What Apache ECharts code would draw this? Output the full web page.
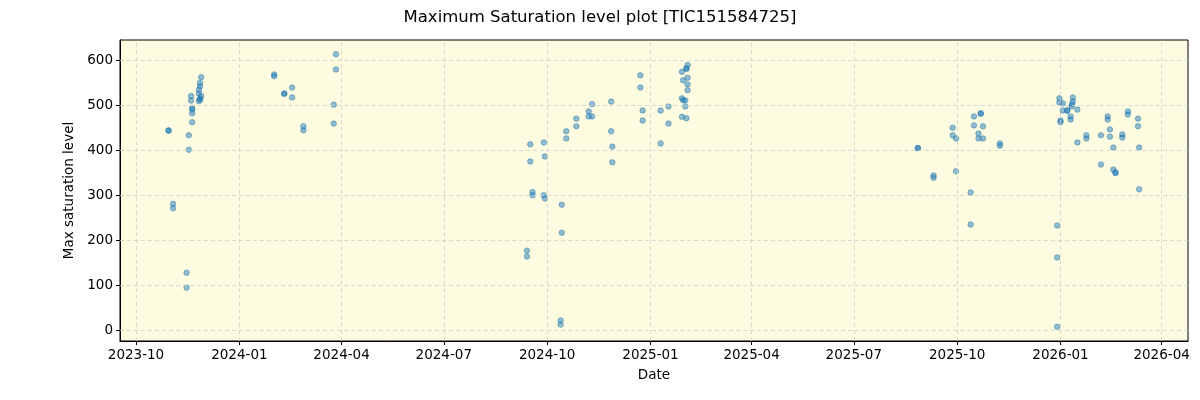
<!DOCTYPE html>
<html>
<head>
<meta charset="utf-8">
<script src="https://cdn.jsdelivr.net/npm/echarts@6/dist/echarts.min.js"></script>
<style>
html,body{margin:0;padding:0;background:#fff;}
#chart{width:1200px;height:400px;}
</style>
</head>
<body>
<div id="chart"></div>
<script>
// ---- data ----
const pointDates = [
  '2023-10-30','2023-10-30',
  '2023-11-03','2023-11-03',
  '2023-11-15','2023-11-15',
  '2023-11-17','2023-11-17',
  '2023-11-19','2023-11-19',
  '2023-11-20','2023-11-20','2023-11-20','2023-11-20',
  '2023-11-26','2023-11-26','2023-11-26',
  '2023-11-27','2023-11-27','2023-11-27','2023-11-27',
  '2023-11-28','2023-11-28',
  '2024-02-01','2024-02-01',
  '2024-02-10','2024-02-10',
  '2024-02-17','2024-02-17',
  '2024-02-27','2024-02-27',
  '2024-03-25','2024-03-25',
  '2024-03-27','2024-03-27',
  '2024-09-13','2024-09-13',
  '2024-09-16','2024-09-16',
  '2024-09-18','2024-09-18',
  '2024-09-28','2024-09-28',
  '2024-09-29','2024-09-29',
  '2024-10-13','2024-10-13',
  '2024-10-14','2024-10-14',
  '2024-10-18','2024-10-18',
  '2024-10-27','2024-10-27',
  '2024-11-07','2024-11-07',
  '2024-11-10','2024-11-10',
  '2024-11-27','2024-11-27',
  '2024-11-28','2024-11-28',
  '2024-12-23','2024-12-23',
  '2024-12-25','2024-12-25',
  '2025-01-10','2025-01-10',
  '2025-01-17','2025-01-17',
  '2025-01-29','2025-01-29','2025-01-29',
  '2025-01-30','2025-01-30',
  '2025-02-01','2025-02-01',
  '2025-02-02','2025-02-02','2025-02-02',
  '2025-02-03','2025-02-03','2025-02-03','2025-02-03',
  '2025-08-27','2025-08-27',
  '2025-09-10','2025-09-10',
  '2025-09-27','2025-09-27',
  '2025-09-30','2025-09-30',
  '2025-10-13','2025-10-13',
  '2025-10-16','2025-10-16',
  '2025-10-20','2025-10-20',
  '2025-10-22','2025-10-22',
  '2025-10-24','2025-10-24',
  '2025-11-08','2025-11-08',
  '2025-12-29','2025-12-29','2025-12-29',
  '2025-12-31','2025-12-31',
  '2026-01-01','2026-01-01',
  '2026-01-03','2026-01-03',
  '2026-01-07','2026-01-07',
  '2026-01-10','2026-01-10',
  '2026-01-11','2026-01-11',
  '2026-01-12','2026-01-12',
  '2026-01-16','2026-01-16',
  '2026-01-24','2026-01-24',
  '2026-02-06','2026-02-06',
  '2026-02-12','2026-02-12',
  '2026-02-14','2026-02-14',
  '2026-02-17','2026-02-17',
  '2026-02-19','2026-02-19',
  '2026-02-25','2026-02-25',
  '2026-03-02','2026-03-02',
  '2026-03-11','2026-03-11',
  '2026-03-12','2026-03-12'
];
const maxSaturation = [
  444, 443,
  281, 271,
  128, 95,
  433, 401,
  520, 510,
  494, 490, 482, 462,
  509, 526, 534,
  512, 515, 542, 549,
  520, 562,
  568, 564,
  526, 525,
  539, 517,
  453, 444,
  501, 459,
  613, 579,
  177, 164,
  413, 375,
  307, 300,
  417, 300,
  386, 293,
  22, 13,
  279, 217,
  442, 426,
  470, 453,
  486, 475,
  475, 502,
  508, 442,
  408, 373,
  566, 539,
  488, 466,
  488, 415,
  497, 459,
  574, 515, 474,
  555, 511,
  510, 497,
  471, 582, 580,
  561, 546, 533, 589,
  405, 404,
  344, 339,
  450, 433,
  426, 353,
  306, 235,
  475, 455,
  437, 426,
  482, 481,
  453, 426,
  415, 410,
  233, 162, 8,
  515, 506,
  466, 462,
  504, 488,
  489, 487,
  475, 468,
  497, 502,
  517, 508,
  490, 417,
  433, 426,
  433, 368,
  475, 468,
  446, 430,
  406, 357,
  351, 349,
  435, 428,
  486, 479,
  470, 453,
  406, 313
];
const xTickDates = ['2023-10-01','2024-01-01','2024-04-01','2024-07-01','2024-10-01',
  '2025-01-01','2025-04-01','2025-07-01','2025-10-01','2026-01-01','2026-04-01'];
const yTickValues = [0, 100, 200, 300, 400, 500, 600];
const xRange = ['2023-09-16 18:00', '2026-04-24 12:00'];
const yRange = [-23.5, 644.5];
const titleText = 'Maximum Saturation level plot [TIC151584725]';

// ---- chart ----
const ts = s => {
  const p = s.split(' ');
  const d = p[0].split('-').map(Number);
  const t = p[1] ? p[1].split(':').map(Number) : [0, 0];
  return Date.UTC(d[0], d[1] - 1, d[2], t[0], t[1]);
};
const xTicks = xTickDates.map(ts);
const pad = n => (n < 10 ? '0' : '') + n;
const fmt = v => { const d = new Date(v); return d.getUTCFullYear() + '-' + pad(d.getUTCMonth() + 1); };

const data = pointDates.map((d, i) => [ts(d), maxSaturation[i]]);
const font = 'DejaVu Sans';
const gridLine = { color: '#cfcfcf', width: 0.8, type: [4, 3] };

const chart = echarts.init(document.getElementById('chart'), null, { renderer: 'canvas' });
chart.setOption({
  animation: false,
  backgroundColor: '#ffffff',
  title: {
    text: titleText, left: 'center', top: 4,
    textStyle: { fontFamily: font, fontSize: 16.5, fontWeight: 'normal', color: '#000' }
  },
  grid: {
    left: 120, right: 12, top: 40, bottom: 59,
    show: true, backgroundColor: '#fdfce1', borderColor: '#000', borderWidth: 1
  },
  xAxis: {
    type: 'value', min: ts(xRange[0]), max: ts(xRange[1]),
    name: 'Date', nameLocation: 'middle', nameGap: 27,
    nameTextStyle: { fontFamily: font, fontSize: 13.5, color: '#000' },
    axisLine: { show: true, onZero: false, lineStyle: { color: '#000', width: 1 } },
    axisTick: { show: true, length: 4, lineStyle: { color: '#000' }, customValues: xTicks },
    axisLabel: { fontFamily: font, fontSize: 13.5, color: '#000', margin: 7,
      customValues: xTicks, formatter: fmt, hideOverlap: false },
    splitLine: { show: false }
  },
  yAxis: {
    type: 'value', min: yRange[0], max: yRange[1],
    name: 'Max saturation level', nameLocation: 'middle', nameGap: 44, nameRotate: 90,
    nameTextStyle: { fontFamily: font, fontSize: 13.5, color: '#000' },
    axisLine: { show: true, onZero: false, lineStyle: { color: '#000', width: 1 } },
    axisTick: { show: true, length: 4, lineStyle: { color: '#000' }, customValues: yTickValues },
    axisLabel: { fontFamily: font, fontSize: 13.5, color: '#000', margin: 7, customValues: yTickValues },
    splitLine: { show: false }
  },
  series: [{
    type: 'scatter',
    data: data,
    symbol: 'circle',
    symbolSize: 5.5,
    itemStyle: { color: 'rgba(31,119,180,0.6)', borderColor: 'rgba(31,119,180,0.75)', borderWidth: 0.8 },
    markLine: {
      silent: true, symbol: ['none', 'none'], animation: false,
      label: { show: false },
      lineStyle: gridLine,
      emphasis: { disabled: true },
      data: xTicks.map(v => ({ xAxis: v })).concat(yTickValues.map(v => ({ yAxis: v })))
    },
    z: 3
  }]
});
</script>
</body>
</html>
